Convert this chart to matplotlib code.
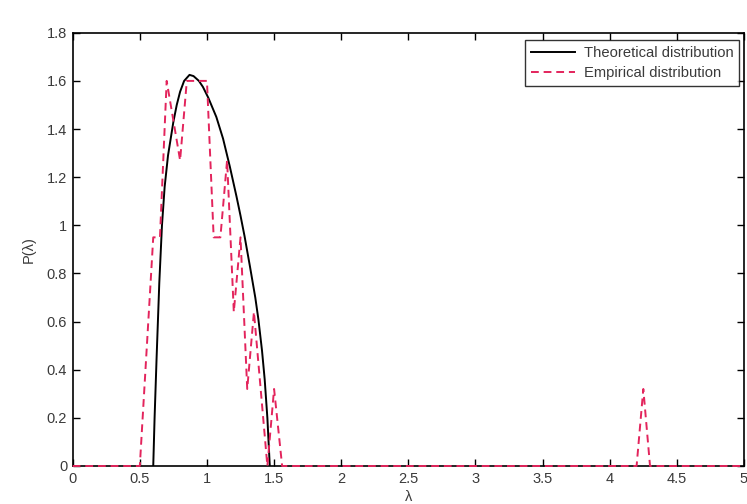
import matplotlib
matplotlib.use("Agg")
import matplotlib.pyplot as plt
from matplotlib.ticker import FuncFormatter

# Theoretical distribution
theo_x = [0.600, 0.610, 0.625, 0.645, 0.665, 0.685, 0.710, 0.750, 0.775, 0.800,
          0.830, 0.870, 0.900, 0.940, 0.970, 1.010, 1.070, 1.120, 1.170, 1.220,
          1.250, 1.280, 1.320, 1.360, 1.383, 1.410, 1.430, 1.450, 1.468]
theo_y = [0.00, 0.20, 0.45, 0.76, 1.00, 1.16, 1.29, 1.43, 1.50, 1.555,
          1.60, 1.625, 1.62, 1.60, 1.575, 1.53, 1.45, 1.36, 1.245, 1.12,
          1.04, 0.955, 0.83, 0.70, 0.61, 0.48, 0.36, 0.20, 0.00]

# Empirical distribution
emp_x = [0.00, 0.50, 0.60, 0.65, 0.70, 0.80, 0.85, 0.90, 0.95, 1.00, 1.05, 1.10,
         1.15, 1.20, 1.25, 1.30, 1.35, 1.45, 1.50, 1.56, 4.20, 4.25, 4.30, 5.00]
emp_y = [0.00, 0.00, 0.95, 0.95, 1.60, 1.27, 1.60, 1.60, 1.60, 1.60, 0.95, 0.95,
         1.27, 0.64, 0.95, 0.32, 0.64, 0.00, 0.32, 0.00, 0.00, 0.32, 0.00, 0.00]

x_ticks = [0, 0.5, 1, 1.5, 2, 2.5, 3, 3.5, 4, 4.5, 5]
y_ticks = [0, 0.2, 0.4, 0.6, 0.8, 1.0, 1.2, 1.4, 1.6, 1.8]

plt.rcParams['font.family'] = ['Liberation Sans', 'DejaVu Sans']
text_color = '#3a3a3a'

fig = plt.figure(figsize=(7.47, 5.04), dpi=100)
ax = fig.add_axes([0.0973, 0.0754, 0.8987, 0.8596])

ax.plot(theo_x, theo_y, color='black', lw=1.4, label='Theoretical distribution',
        zorder=3)
ax.plot(emp_x, emp_y, color='#e3245c', lw=1.4, linestyle=(0, (4, 2.5)),
        label='Empirical distribution', zorder=4, clip_on=False)

ax.set_xlim(0, 5)
ax.set_ylim(0, 1.8)
ax.set_xticks(x_ticks)
ax.set_yticks(y_ticks)
fmt = FuncFormatter(lambda v, p: '%g' % v)
ax.xaxis.set_major_formatter(fmt)
ax.yaxis.set_major_formatter(fmt)
ax.tick_params(direction='in', top=True, right=True, length=5, width=1,
               labelsize=10.5, labelcolor=text_color, pad=4)
for s in ax.spines.values():
    s.set_linewidth(1.2)
    s.set_color('black')
    s.set_zorder(2)

ax.set_xlabel('λ', fontsize=10.5, color=text_color, labelpad=3)
ax.set_ylabel('P(λ)', fontsize=10.5, color=text_color, labelpad=8)

leg = ax.legend(loc='upper right', fontsize=10.6, frameon=True, fancybox=False,
                edgecolor='black', handlelength=3.0, handletextpad=0.6,
                borderpad=0.4, labelspacing=0.4, borderaxespad=0,
                bbox_to_anchor=(0.993, 0.983))
leg.get_frame().set_linewidth(1.0)
for t in leg.get_texts():
    t.set_color(text_color)

fig.savefig('out.png', dpi=100)
